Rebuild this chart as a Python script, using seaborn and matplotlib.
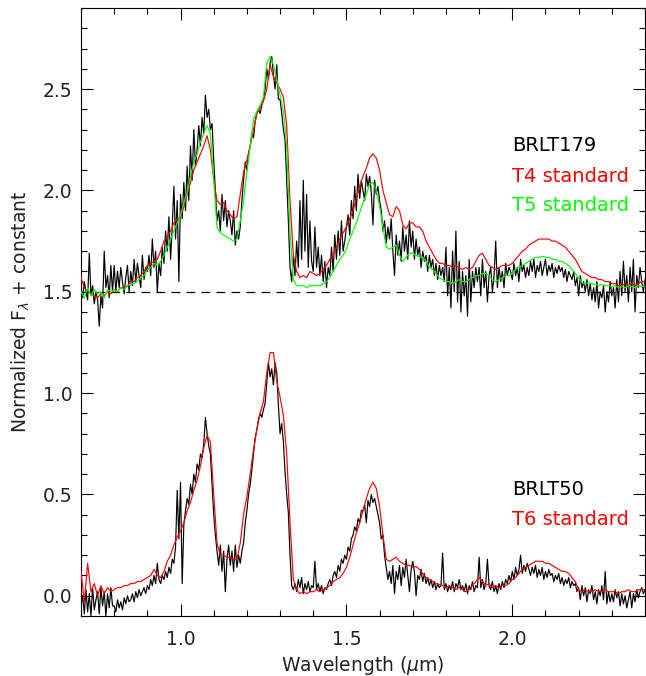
import numpy as np
import pandas as pd
import matplotlib
matplotlib.use("Agg")
import matplotlib.pyplot as plt
import seaborn as sns
from matplotlib.ticker import MultipleLocator

# ---------------- data ----------------
# wavelength grids (micron)
wl_obj = np.round(np.linspace(0.70, 2.40, 341), 3)   # 0.005 um sampling for observed spectra
wl_std = np.round(np.linspace(0.70, 2.40, 171), 3)   # 0.01 um sampling for standards

brlt179 = [
    1.52, 1.47, 1.55, 1.50, 1.46, 1.69, 1.48, 1.53, 1.44, 1.50,
    1.46, 1.33, 1.48, 1.42, 1.70, 1.52, 1.58, 1.47, 1.63, 1.50,
    1.63, 1.50, 1.60, 1.52, 1.62, 1.55, 1.49, 1.57, 1.63, 1.50,
    1.60, 1.53, 1.66, 1.55, 1.64, 1.58, 1.52, 1.68, 1.56, 1.62,
    1.60, 1.68, 1.58, 1.76, 1.62, 1.70, 1.50, 1.64, 1.58, 1.72,
    1.64, 1.80, 1.70, 1.87, 1.66, 1.82, 2.02, 1.76, 1.95, 1.55,
    1.98, 1.86, 2.04, 1.90, 2.12, 1.95, 2.22, 2.05, 2.30, 2.12,
    2.20, 2.32, 2.22, 2.36, 2.28, 2.47, 2.36, 2.40, 2.30, 2.33,
    2.15, 2.00, 1.85, 1.90, 1.80, 1.98, 1.85, 1.95, 1.82, 1.90,
    1.85, 1.78, 1.90, 1.73, 1.80, 1.76, 1.82, 1.95, 2.05, 2.14,
    2.10, 2.18, 2.22, 2.28, 2.26, 2.34, 2.38, 2.40, 2.38, 2.42,
    2.45, 2.50, 2.60, 2.55, 2.63, 2.66, 2.57, 2.50, 2.62, 2.45,
    2.45, 2.38, 2.30, 2.25, 2.05, 1.85, 1.62, 1.55, 1.68, 1.58,
    1.75, 1.62, 1.95, 1.66, 2.05, 1.70, 1.98, 1.62, 1.85, 1.65,
    1.60, 1.82, 1.62, 1.72, 1.58, 1.68, 1.55, 1.65, 1.52, 1.62,
    1.58, 1.72, 1.60, 1.78, 1.66, 1.80, 1.68, 1.85, 1.70, 1.75,
    1.82, 1.88, 1.78, 1.95, 1.86, 2.02, 1.90, 2.08, 1.96, 2.05,
    2.00, 1.95, 2.08, 2.02, 2.07, 1.99, 1.83, 2.05, 1.98, 2.02,
    1.95, 1.90, 1.80, 1.85, 1.74, 1.82, 1.76, 1.86, 1.70, 1.58,
    1.78, 1.68, 1.75, 1.65, 1.82, 1.70, 1.78, 1.66, 1.85, 1.72,
    1.80, 1.66, 1.76, 1.68, 1.72, 1.62, 1.70, 1.65, 1.68, 1.60,
    1.68, 1.62, 1.66, 1.58, 1.64, 1.56, 1.63, 1.58, 1.62, 1.55,
    1.72, 1.48, 1.62, 1.42, 1.70, 1.50, 1.80, 1.45, 1.65, 1.40,
    1.60, 1.48, 1.58, 1.38, 1.66, 1.45, 1.60, 1.52, 1.62, 1.55,
    1.62, 1.48, 1.66, 1.52, 1.60, 1.45, 1.58, 1.62, 1.50, 1.58,
    1.75, 1.52, 1.62, 1.55, 1.60, 1.52, 1.64, 1.58, 1.62, 1.60,
    1.56, 1.64, 1.58, 1.62, 1.55, 1.66, 1.60, 1.63, 1.57, 1.62,
    1.58, 1.65, 1.60, 1.66, 1.57, 1.63, 1.60, 1.65, 1.58, 1.62,
    1.66, 1.58, 1.63, 1.60, 1.64, 1.57, 1.62, 1.59, 1.63, 1.60,
    1.62, 1.57, 1.61, 1.55, 1.60, 1.58, 1.56, 1.60, 1.53, 1.57,
    1.48, 1.58, 1.52, 1.55, 1.50, 1.56, 1.48, 1.54, 1.46, 1.52,
    1.45, 1.55, 1.42, 1.50, 1.47, 1.53, 1.40, 1.50, 1.45, 1.55,
    1.48, 1.52, 1.42, 1.56, 1.45, 1.60, 1.48, 1.65, 1.50, 1.58,
    1.45, 1.62, 1.50, 1.66, 1.40, 1.58, 1.52, 1.62, 1.55, 1.50,
    1.56,
]

brlt50 = [
    -0.05, 0.00, -0.09, 0.03, -0.08, 0.01, -0.10, 0.04, -0.07, -0.02,
    0.02, -0.09, 0.04, -0.05, 0.02, -0.10, 0.01, -0.06, 0.04, -0.05,
    -0.05, -0.08, -0.02, -0.06, -0.03, -0.07, -0.01, -0.04, 0.00, -0.03,
    -0.02, 0.01, -0.03, 0.02, -0.01, 0.03, 0.00, 0.02, 0.04, 0.01,
    0.05, 0.03, 0.08, 0.05, 0.10, 0.06, 0.16, 0.08, 0.06, 0.10,
    0.08, 0.12, 0.09, 0.14, 0.11, 0.18, 0.16, 0.24, 0.52, 0.28,
    0.56, 0.06, 0.35, 0.42, 0.48, 0.45, 0.55, 0.50, 0.60, 0.56,
    0.65, 0.62, 0.70, 0.68, 0.75, 0.88, 0.80, 0.74, 0.70, 0.55,
    0.40, 0.30, 0.22, 0.15, 0.25, 0.12, 0.22, 0.02, 0.18, 0.25,
    0.15, 0.22, 0.12, 0.25, 0.14, 0.20, 0.16, 0.22, 0.26, 0.36,
    0.42, 0.50, 0.55, 0.62, 0.70, 0.78, 0.82, 0.87, 0.90, 0.88,
    0.92, 0.95, 1.05, 1.15, 1.08, 1.12, 1.04, 1.15, 1.10, 0.94,
    0.80, 0.85, 0.76, 0.61, 0.50, 0.41, 0.20, 0.05, 0.03, 0.06,
    0.02, 0.08, 0.04, 0.09, 0.01, 0.06, 0.03, 0.07, 0.02, 0.05,
    0.04, 0.17, 0.03, 0.06, 0.02, 0.05, 0.01, 0.04, 0.03, 0.06,
    0.08, 0.05, 0.10, 0.12, 0.09, 0.15, 0.12, 0.18, 0.16, 0.20,
    0.18, 0.24, 0.22, 0.28, 0.30, 0.34, 0.32, 0.38, 0.36, 0.42,
    0.42, 0.45, 0.36, 0.47, 0.44, 0.50, 0.46, 0.48, 0.44, 0.40,
    0.36, 0.28, 0.30, 0.20, 0.14, 0.08, 0.12, 0.06, 0.15, 0.01,
    0.12, 0.08, 0.15, 0.05, 0.14, 0.09, 0.18, 0.10, 0.02, 0.13,
    0.17, 0.12, 0.00, 0.10, 0.08, 0.13, 0.07, 0.11, 0.06, 0.09,
    0.05, 0.08, 0.04, 0.07, 0.03, 0.06, 0.04, 0.05, 0.21, 0.03,
    0.06, 0.02, 0.05, 0.03, 0.07, 0.02, 0.06, 0.04, 0.08, 0.03,
    0.05, 0.02, 0.06, 0.01, 0.05, 0.03, 0.07, 0.02, 0.05, 0.04,
    0.19, 0.04, 0.08, 0.03, 0.06, 0.18, 0.05, 0.03, 0.07, 0.02,
    0.05, 0.01, 0.06, 0.03, 0.07, 0.04, 0.08, 0.06, 0.10, 0.07,
    0.12, 0.08, 0.14, 0.10, 0.13, 0.20, 0.11, 0.15, 0.12, 0.16,
    0.13, 0.10, 0.14, 0.11, 0.15, 0.09, 0.13, 0.10, 0.14, 0.08,
    0.12, 0.09, 0.13, 0.10, 0.11, 0.07, 0.10, 0.08, 0.11, 0.06,
    0.09, 0.05, 0.08, 0.06, 0.09, 0.04, 0.07, 0.05, 0.06, 0.02,
    0.04, -0.02, 0.05, 0.00, 0.04, -0.03, 0.03, 0.01, 0.05, -0.02,
    0.02, -0.04, 0.03, 0.00, 0.05, -0.02, 0.12, -0.04, 0.02, -0.03,
    0.01, -0.03, 0.03, -0.01, 0.02, -0.05, 0.01, -0.04, 0.00, -0.06,
    -0.02, 0.02, -0.06, 0.01, -0.03, 0.03, -0.01, 0.02, 0.04, 0.01,
    0.03,
]

t4_std = [
    1.57, 1.52, 1.50, 1.49, 1.48, 1.47, 1.49, 1.48, 1.50, 1.49,
    1.51, 1.50, 1.52, 1.52, 1.53, 1.55, 1.55, 1.57, 1.58, 1.60,
    1.63, 1.64, 1.65, 1.66, 1.70, 1.75, 1.77, 1.80, 1.84, 1.86,
    1.87, 1.92, 1.98, 2.04, 2.10, 2.14, 2.18, 2.22, 2.27, 2.20,
    2.05, 1.95, 1.93, 1.94, 1.90, 1.88, 1.86, 1.87, 1.98, 2.09,
    2.15, 2.22, 2.30, 2.38, 2.41, 2.44, 2.50, 2.62, 2.56, 2.53,
    2.50, 2.46, 2.32, 1.95, 1.68, 1.60, 1.57, 1.58, 1.57, 1.60,
    1.59, 1.58, 1.59, 1.61, 1.63, 1.66, 1.68, 1.72, 1.76, 1.79,
    1.82, 1.86, 1.90, 1.96, 2.02, 2.07, 2.11, 2.16, 2.18, 2.16,
    2.10, 2.00, 1.94, 1.88, 1.87, 1.92, 1.90, 1.83, 1.81, 1.84,
    1.84, 1.82, 1.82, 1.80, 1.75, 1.72, 1.69, 1.66, 1.64, 1.64,
    1.63, 1.63, 1.62, 1.63, 1.62, 1.61, 1.62, 1.61, 1.62, 1.65,
    1.68, 1.69, 1.66, 1.63, 1.62, 1.61, 1.62, 1.63, 1.63, 1.63,
    1.64, 1.66, 1.68, 1.70, 1.71, 1.73, 1.74, 1.75, 1.76, 1.76,
    1.76, 1.76, 1.75, 1.75, 1.74, 1.73, 1.72, 1.70, 1.68, 1.66,
    1.63, 1.60, 1.59, 1.58, 1.57, 1.57, 1.56, 1.56, 1.55, 1.55,
    1.54, 1.54, 1.53, 1.53, 1.54, 1.53, 1.54, 1.53, 1.54, 1.55,
    1.55,
]

t5_std = [
    1.50, 1.47, 1.52, 1.48, 1.51, 1.49, 1.50, 1.47, 1.51, 1.50,
    1.51, 1.50, 1.52, 1.51, 1.53, 1.54, 1.54, 1.55, 1.57, 1.58,
    1.61, 1.62, 1.64, 1.63, 1.65, 1.68, 1.72, 1.76, 1.80, 1.84,
    1.88, 1.94, 1.99, 2.07, 2.14, 2.18, 2.24, 2.28, 2.32, 2.28,
    2.05, 1.82, 1.79, 1.78, 1.77, 1.76, 1.75, 1.76, 1.85, 1.95,
    2.09, 2.22, 2.35, 2.39, 2.42, 2.46, 2.63, 2.66, 2.62, 2.55,
    2.47, 2.39, 2.22, 1.80, 1.56, 1.53, 1.53, 1.53, 1.52, 1.53,
    1.53, 1.53, 1.53, 1.54, 1.55, 1.57, 1.60, 1.63, 1.66, 1.68,
    1.71, 1.76, 1.80, 1.84, 1.89, 1.94, 1.98, 2.03, 2.04, 2.00,
    1.92, 1.82, 1.72, 1.71, 1.72, 1.73, 1.68, 1.65, 1.67, 1.69,
    1.69, 1.68, 1.67, 1.67, 1.65, 1.62, 1.61, 1.59, 1.57, 1.56,
    1.55, 1.55, 1.54, 1.55, 1.56, 1.55, 1.55, 1.56, 1.57, 1.58,
    1.58, 1.59, 1.59, 1.58, 1.56, 1.55, 1.56, 1.57, 1.58, 1.58,
    1.59, 1.61, 1.62, 1.63, 1.64, 1.65, 1.66, 1.67, 1.67, 1.675,
    1.67, 1.67, 1.66, 1.66, 1.65, 1.65, 1.64, 1.63, 1.61, 1.59,
    1.57, 1.545, 1.54, 1.545, 1.54, 1.535, 1.53, 1.535, 1.53, 1.53,
    1.525, 1.53, 1.52, 1.525, 1.52, 1.53, 1.525, 1.52, 1.53, 1.525,
    1.53,
]

t6_std = [
    0.12, -0.03, 0.16, 0.02, 0.06, 0.00, 0.05, 0.01, 0.04, 0.02,
    0.03, 0.04, 0.04, 0.05, 0.05, 0.06, 0.06, 0.07, 0.07, 0.08,
    0.09, 0.10, 0.13, 0.10, 0.09, 0.12, 0.17, 0.20, 0.25, 0.29,
    0.32, 0.36, 0.42, 0.46, 0.52, 0.57, 0.64, 0.73, 0.79, 0.76,
    0.50, 0.26, 0.20, 0.20, 0.19, 0.19, 0.18, 0.18, 0.26, 0.40,
    0.49, 0.60, 0.72, 0.82, 0.90, 0.96, 1.10, 1.20, 1.20, 1.06,
    0.98, 0.89, 0.70, 0.36, 0.08, 0.03, 0.01, 0.02, 0.01, 0.02,
    0.02, 0.03, 0.02, 0.03, 0.04, 0.05, 0.07, 0.08, 0.09, 0.11,
    0.14, 0.19, 0.25, 0.31, 0.36, 0.42, 0.48, 0.53, 0.56, 0.53,
    0.44, 0.30, 0.18, 0.17, 0.18, 0.19, 0.17, 0.16, 0.15, 0.15,
    0.14, 0.145, 0.13, 0.11, 0.09, 0.08, 0.07, 0.06, 0.055, 0.05,
    0.04, 0.05, 0.04, 0.03, 0.04, 0.03, 0.02, 0.03, 0.05, 0.07,
    0.09, 0.07, 0.05, 0.06, 0.04, 0.05, 0.04, 0.05, 0.05, 0.06,
    0.08, 0.09, 0.11, 0.13, 0.14, 0.15, 0.16, 0.17, 0.17, 0.17,
    0.16, 0.16, 0.15, 0.14, 0.13, 0.12, 0.12, 0.11, 0.09, 0.07,
    0.03, 0.02, 0.03, 0.02, 0.02, 0.03, 0.02, 0.02, 0.03, 0.02,
    0.02, 0.02, 0.01, 0.02, 0.02, 0.03, 0.02, 0.02, 0.03, 0.03,
    0.03,
]

baseline = 1.5
labels_top = ["BRLT179", "T4 standard", "T5 standard"]
labels_bot = ["BRLT50", "T6 standard"]

# ---------------- plot ----------------
sns.set_style("ticks")
plt.rcParams["font.family"] = ["DejaVu Sans"]
plt.rcParams["axes.linewidth"] = 0.8

fig = plt.figure(figsize=(6.46, 6.76), dpi=100)
ax = fig.add_axes([81 / 646, 60 / 676, 564 / 646, 608 / 676])

lw = 0.85
ax.axhline(baseline, color="black", lw=0.9, ls=(0, (7, 5)), zorder=1)
sns.lineplot(x=wl_obj, y=brlt179, color="black", lw=lw, ax=ax, estimator=None, sort=False, zorder=2)
sns.lineplot(x=wl_std, y=t4_std, color="#ff0000", lw=lw, ax=ax, estimator=None, sort=False, zorder=3)
sns.lineplot(x=wl_std, y=t5_std, color="#00ff00", lw=lw, ax=ax, estimator=None, sort=False, zorder=4)
sns.lineplot(x=wl_obj, y=brlt50, color="black", lw=lw, ax=ax, estimator=None, sort=False, zorder=2)
sns.lineplot(x=wl_std, y=t6_std, color="#ff0000", lw=lw, ax=ax, estimator=None, sort=False, zorder=3)

ax.set_xlim(0.7, 2.4)
ax.set_ylim(-0.1, 2.9)
ax.xaxis.set_major_locator(MultipleLocator(0.5))
ax.xaxis.set_minor_locator(MultipleLocator(0.1))
ax.yaxis.set_major_locator(MultipleLocator(0.5))
ax.yaxis.set_minor_locator(MultipleLocator(0.1))
ax.set_xticks([1.0, 1.5, 2.0])
ax.set_yticks([0.0, 0.5, 1.0, 1.5, 2.0, 2.5])

ax.tick_params(which="both", direction="in", top=True, right=True, width=0.8,
               labelsize=13.5, colors="black", labelcolor="#222222")
ax.tick_params(which="major", length=8.6)
ax.tick_params(which="minor", length=4.3)
ax.tick_params(axis="x", which="major", pad=10)
ax.tick_params(axis="y", which="major", pad=6)
for s in ax.spines.values():
    s.set_visible(True)
    s.set_color("black")

ax.set_xlabel(r"Wavelength ($\mu$m)", fontsize=13.5, color="#222222", labelpad=4)
ax.set_ylabel(r"Normalized F$_\lambda$ + constant", fontsize=13.5, color="#222222", labelpad=8)

fs = 14
ax.text(2.0, 2.22, labels_top[0], color="black", fontsize=fs, va="center", ha="left")
ax.text(2.0, 2.07, labels_top[1], color="#ff0000", fontsize=fs, va="center", ha="left")
ax.text(2.0, 1.925, labels_top[2], color="#00ff00", fontsize=fs, va="center", ha="left")
ax.text(2.0, 0.525, labels_bot[0], color="black", fontsize=fs, va="center", ha="left")
ax.text(2.0, 0.375, labels_bot[1], color="#ff0000", fontsize=fs, va="center", ha="left")

fig.savefig("out.png", dpi=100)
